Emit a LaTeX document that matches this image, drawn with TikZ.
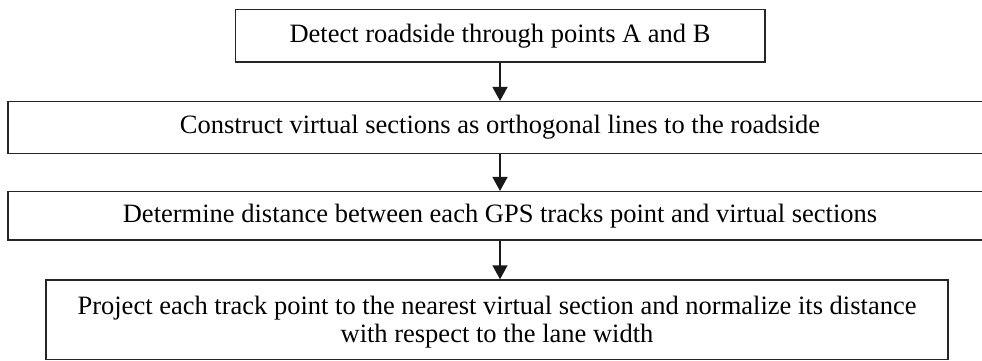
\documentclass[tikz,border=0pt]{standalone}
\usepackage{fontspec}
\setmainfont{Liberation Serif}
\usetikzlibrary{arrows.meta}
\begin{document}
\begin{tikzpicture}[x=1pt,y=-1pt,
  stepbox/.style={draw=black!85, line width=1.5pt, inner sep=0pt, align=center,
    font=\fontsize{26.5}{28}\selectfont},
  steptext/.style={inner sep=0pt, align=center, font=\fontsize{26.5}{28}\selectfont},
  flow/.style={line width=1.5pt, draw=black!90, -{Triangle[width=15pt,length=14pt]}}]
\useasboundingbox (0,0) rectangle (982,361);
\clip (0,0) rectangle (982,361);
\node[stepbox, minimum width=529.5pt, minimum height=52.5pt] (b1) at (500,35.75)
  {Detect roadside through points A and B};
\node[stepbox, minimum width=984pt, minimum height=51.6pt] (b2) at (500,127.5)
  {Construct virtual sections as orthogonal lines to the roadside};
\node[stepbox, minimum width=984pt, minimum height=48.3pt] (b3) at (500,215.85)
  {Determine distance between each GPS tracks point and virtual sections};
\node[stepbox, minimum width=902pt, minimum height=79.5pt] (b4) at (497,319.75) {};
\node[steptext] (t4) at (497,322)
  {Project each track point to the nearest virtual section and normalize its distance\\with respect to the lane width};
\draw[flow] (b1.south) -- (b2.north);
\draw[flow] (b2.south) -- (b3.north);
\draw[flow] (b3.south) -- (b3.south |- b4.north);
\end{tikzpicture}
\end{document}
